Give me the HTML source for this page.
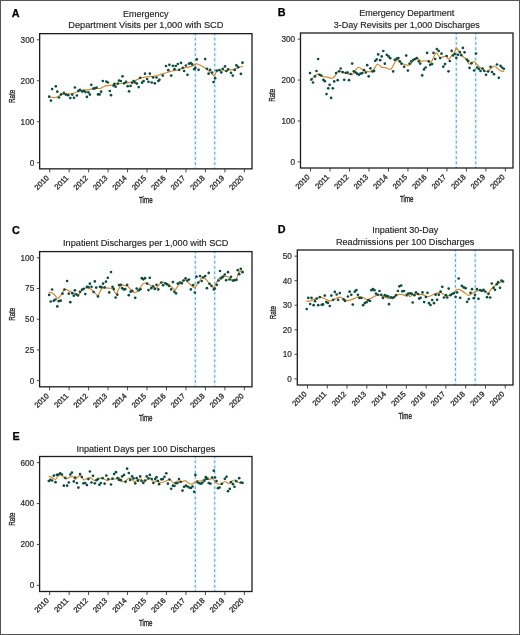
<!DOCTYPE html>
<html><head><meta charset="utf-8"><style>html,body{margin:0;padding:0;background:#fff;overflow:hidden}svg{display:block;will-change:transform}</style></head>
<body><svg width="520" height="635" viewBox="0 0 520 635"><rect x="0" y="0" width="520" height="635" fill="#fff"/><rect x="0.5" y="0.5" width="519" height="634" fill="none" stroke="#555" stroke-width="1"/><g font-family="'Liberation Sans', sans-serif"><text x="11.7" y="16.5" font-family="'Liberation Sans', sans-serif" font-weight="bold" font-size="10.8" fill="#000" stroke="#000" stroke-width="0.25">A</text><text x="145.825" y="16.8" text-anchor="middle" font-size="9" fill="#1e1e1e" stroke="#1e1e1e" stroke-width="0.15">Emergency</text><text x="145.825" y="28.1" text-anchor="middle" font-size="9.22" fill="#1e1e1e" stroke="#1e1e1e" stroke-width="0.15">Department Visits per 1,000 with SCD</text><line x1="195.30" y1="168.85" x2="195.30" y2="33.65" stroke="#eaf8fc" stroke-width="3"/><line x1="195.30" y1="168.85" x2="195.30" y2="33.65" stroke="#3f93c0" stroke-width="0.9" stroke-dasharray="2.6 2.59" stroke-dashoffset="1.3"/><line x1="214.77" y1="168.85" x2="214.77" y2="33.65" stroke="#eaf8fc" stroke-width="3"/><line x1="214.77" y1="168.85" x2="214.77" y2="33.65" stroke="#3f93c0" stroke-width="0.9" stroke-dasharray="2.6 2.59" stroke-dashoffset="1.3"/><path d="M48.6,96.7 C49.8,96.8 53.4,97.8 55.5,97.5 C57.6,97.2 59.4,95.2 61.3,94.6 C63.2,94.0 65.2,94.2 67.1,94.0 C69.0,93.8 70.9,94.0 72.8,93.5 C74.7,93.0 76.7,91.8 78.6,91.2 C80.5,90.7 82.5,90.5 84.4,90.2 C86.3,89.9 88.3,89.7 90.2,89.4 C92.1,89.1 94.3,88.5 95.9,88.3 C97.5,88.1 98.5,88.8 100.0,88.5 C101.5,88.2 102.7,86.8 104.6,86.2 C106.5,85.7 109.4,85.6 111.5,85.2 C113.6,84.8 115.4,84.1 117.3,83.8 C119.2,83.5 121.2,83.5 123.1,83.3 C125.0,83.1 126.9,83.1 128.8,82.7 C130.7,82.3 132.7,81.8 134.6,81.0 C136.5,80.2 138.5,78.8 140.4,78.1 C142.3,77.4 144.3,77.2 146.2,76.9 C148.1,76.6 150.4,76.4 151.9,76.3 C153.4,76.2 153.5,76.5 155.0,76.2 C156.5,75.9 158.9,75.0 160.8,74.4 C162.7,73.8 164.6,73.3 166.5,72.7 C168.4,72.1 170.4,71.5 172.3,71.0 C174.2,70.5 176.2,70.3 178.1,69.8 C180.0,69.3 181.9,68.6 183.8,68.1 C185.7,67.6 188.1,67.3 189.6,66.9 C191.1,66.5 192.1,66.3 193.1,65.8 C194.1,65.3 194.6,64.3 195.4,64.0 C196.2,63.7 196.7,63.7 197.7,64.0 C198.7,64.3 199.9,65.1 201.2,65.8 C202.5,66.5 203.8,67.2 205.4,68.3 C207.0,69.4 209.4,71.4 210.8,72.6 C212.2,73.8 212.9,75.6 214.0,75.3 C215.1,75.0 215.9,71.9 217.2,71.0 C218.4,70.1 220.1,69.9 221.5,69.9 C222.9,69.9 224.7,71.1 225.8,71.0 C226.9,70.9 226.9,69.6 228.0,69.4 C229.1,69.2 230.9,70.1 232.3,69.9 C233.7,69.7 234.9,68.9 236.6,68.3 C238.3,67.7 241.5,66.5 242.5,66.2" fill="none" stroke="#da862f" stroke-width="1.2" stroke-linejoin="round" stroke-linecap="round"/><circle cx="49.2" cy="96.7" r="1.33" fill="#0b4d40"/><circle cx="50.9" cy="100.6" r="1.33" fill="#0b4d40"/><circle cx="52.1" cy="89.1" r="1.33" fill="#0b4d40"/><circle cx="55.8" cy="86.3" r="1.33" fill="#0b4d40"/><circle cx="57.3" cy="91.7" r="1.33" fill="#0b4d40"/><circle cx="59.0" cy="97.5" r="1.33" fill="#0b4d40"/><circle cx="61.1" cy="94.4" r="1.33" fill="#0b4d40"/><circle cx="63.8" cy="92.9" r="1.33" fill="#0b4d40"/><circle cx="65.9" cy="94.6" r="1.33" fill="#0b4d40"/><circle cx="68.2" cy="95.2" r="1.33" fill="#0b4d40"/><circle cx="70.3" cy="98.1" r="1.33" fill="#0b4d40"/><circle cx="72.3" cy="94.6" r="1.33" fill="#0b4d40"/><circle cx="74.0" cy="97.8" r="1.33" fill="#0b4d40"/><circle cx="74.9" cy="87.5" r="1.33" fill="#0b4d40"/><circle cx="76.9" cy="95.5" r="1.33" fill="#0b4d40"/><circle cx="78.4" cy="90.9" r="1.33" fill="#0b4d40"/><circle cx="80.0" cy="89.8" r="1.33" fill="#0b4d40"/><circle cx="82.1" cy="91.4" r="1.33" fill="#0b4d40"/><circle cx="83.8" cy="90.9" r="1.33" fill="#0b4d40"/><circle cx="85.5" cy="92.1" r="1.33" fill="#0b4d40"/><circle cx="86.9" cy="96.9" r="1.33" fill="#0b4d40"/><circle cx="88.4" cy="92.3" r="1.33" fill="#0b4d40"/><circle cx="89.9" cy="94.6" r="1.33" fill="#0b4d40"/><circle cx="91.3" cy="84.8" r="1.33" fill="#0b4d40"/><circle cx="93.4" cy="88.6" r="1.33" fill="#0b4d40"/><circle cx="94.8" cy="88.3" r="1.33" fill="#0b4d40"/><circle cx="96.5" cy="87.7" r="1.33" fill="#0b4d40"/><circle cx="98.0" cy="94.4" r="1.33" fill="#0b4d40"/><circle cx="99.6" cy="94.4" r="1.33" fill="#0b4d40"/><circle cx="101.1" cy="91.7" r="1.33" fill="#0b4d40"/><circle cx="102.8" cy="81.0" r="1.33" fill="#0b4d40"/><circle cx="106.3" cy="81.5" r="1.33" fill="#0b4d40"/><circle cx="107.8" cy="82.5" r="1.33" fill="#0b4d40"/><circle cx="109.8" cy="91.0" r="1.33" fill="#0b4d40"/><circle cx="111.0" cy="95.2" r="1.33" fill="#0b4d40"/><circle cx="113.6" cy="85.6" r="1.33" fill="#0b4d40"/><circle cx="115.6" cy="86.7" r="1.33" fill="#0b4d40"/><circle cx="114.4" cy="83.8" r="1.33" fill="#0b4d40"/><circle cx="117.9" cy="83.6" r="1.33" fill="#0b4d40"/><circle cx="119.0" cy="80.6" r="1.33" fill="#0b4d40"/><circle cx="120.8" cy="81.0" r="1.33" fill="#0b4d40"/><circle cx="122.5" cy="76.3" r="1.33" fill="#0b4d40"/><circle cx="124.2" cy="83.3" r="1.33" fill="#0b4d40"/><circle cx="126.0" cy="81.8" r="1.33" fill="#0b4d40"/><circle cx="127.7" cy="86.2" r="1.33" fill="#0b4d40"/><circle cx="129.1" cy="91.3" r="1.33" fill="#0b4d40"/><circle cx="130.6" cy="85.9" r="1.33" fill="#0b4d40"/><circle cx="132.3" cy="82.7" r="1.33" fill="#0b4d40"/><circle cx="133.7" cy="81.0" r="1.33" fill="#0b4d40"/><circle cx="135.2" cy="82.5" r="1.33" fill="#0b4d40"/><circle cx="136.9" cy="83.6" r="1.33" fill="#0b4d40"/><circle cx="138.7" cy="87.1" r="1.33" fill="#0b4d40"/><circle cx="140.2" cy="77.8" r="1.33" fill="#0b4d40"/><circle cx="142.1" cy="82.7" r="1.33" fill="#0b4d40"/><circle cx="143.6" cy="81.0" r="1.33" fill="#0b4d40"/><circle cx="145.0" cy="73.7" r="1.33" fill="#0b4d40"/><circle cx="147.1" cy="79.0" r="1.33" fill="#0b4d40"/><circle cx="148.5" cy="81.8" r="1.33" fill="#0b4d40"/><circle cx="149.8" cy="73.7" r="1.33" fill="#0b4d40"/><circle cx="151.7" cy="82.5" r="1.33" fill="#0b4d40"/><circle cx="153.1" cy="77.5" r="1.33" fill="#0b4d40"/><circle cx="154.8" cy="83.3" r="1.33" fill="#0b4d40"/><circle cx="156.5" cy="77.5" r="1.33" fill="#0b4d40"/><circle cx="158.3" cy="81.0" r="1.33" fill="#0b4d40"/><circle cx="159.4" cy="79.8" r="1.33" fill="#0b4d40"/><circle cx="162.8" cy="75.6" r="1.33" fill="#0b4d40"/><circle cx="166.0" cy="66.0" r="1.33" fill="#0b4d40"/><circle cx="168.3" cy="70.2" r="1.33" fill="#0b4d40"/><circle cx="169.4" cy="64.8" r="1.33" fill="#0b4d40"/><circle cx="171.2" cy="75.6" r="1.33" fill="#0b4d40"/><circle cx="172.9" cy="65.8" r="1.33" fill="#0b4d40"/><circle cx="174.4" cy="69.2" r="1.33" fill="#0b4d40"/><circle cx="175.8" cy="66.0" r="1.33" fill="#0b4d40"/><circle cx="177.8" cy="64.0" r="1.33" fill="#0b4d40"/><circle cx="179.2" cy="69.8" r="1.33" fill="#0b4d40"/><circle cx="181.0" cy="62.9" r="1.33" fill="#0b4d40"/><circle cx="182.7" cy="67.8" r="1.33" fill="#0b4d40"/><circle cx="184.1" cy="71.0" r="1.33" fill="#0b4d40"/><circle cx="185.9" cy="65.5" r="1.33" fill="#0b4d40"/><circle cx="187.5" cy="74.8" r="1.33" fill="#0b4d40"/><circle cx="189.0" cy="63.7" r="1.33" fill="#0b4d40"/><circle cx="190.8" cy="63.2" r="1.33" fill="#0b4d40"/><circle cx="192.2" cy="64.4" r="1.33" fill="#0b4d40"/><circle cx="194.2" cy="69.2" r="1.33" fill="#0b4d40"/><circle cx="195.4" cy="67.8" r="1.33" fill="#0b4d40"/><circle cx="196.8" cy="59.4" r="1.33" fill="#0b4d40"/><circle cx="198.6" cy="69.8" r="1.33" fill="#0b4d40"/><circle cx="205.2" cy="59.1" r="1.33" fill="#0b4d40"/><circle cx="207.0" cy="68.8" r="1.33" fill="#0b4d40"/><circle cx="208.6" cy="73.7" r="1.33" fill="#0b4d40"/><circle cx="210.2" cy="69.9" r="1.33" fill="#0b4d40"/><circle cx="212.1" cy="72.6" r="1.33" fill="#0b4d40"/><circle cx="213.5" cy="82.1" r="1.33" fill="#0b4d40"/><circle cx="215.1" cy="78.2" r="1.33" fill="#0b4d40"/><circle cx="216.7" cy="70.7" r="1.33" fill="#0b4d40"/><circle cx="219.4" cy="70.2" r="1.33" fill="#0b4d40"/><circle cx="221.3" cy="72.4" r="1.33" fill="#0b4d40"/><circle cx="222.8" cy="68.8" r="1.33" fill="#0b4d40"/><circle cx="225.0" cy="66.4" r="1.33" fill="#0b4d40"/><circle cx="226.4" cy="71.0" r="1.33" fill="#0b4d40"/><circle cx="228.2" cy="69.4" r="1.33" fill="#0b4d40"/><circle cx="231.0" cy="72.8" r="1.33" fill="#0b4d40"/><circle cx="232.8" cy="75.6" r="1.33" fill="#0b4d40"/><circle cx="234.7" cy="69.9" r="1.33" fill="#0b4d40"/><circle cx="236.4" cy="65.3" r="1.33" fill="#0b4d40"/><circle cx="238.2" cy="67.2" r="1.33" fill="#0b4d40"/><circle cx="240.9" cy="73.9" r="1.33" fill="#0b4d40"/><circle cx="242.5" cy="62.7" r="1.33" fill="#0b4d40"/><rect x="39.65" y="33.65" width="212.35" height="135.2" fill="none" stroke="#1c1c1c" stroke-width="1.3"/><line x1="36.85" y1="162.70" x2="39.65" y2="162.70" stroke="#333" stroke-width="0.9"/><text x="34.25" y="165.60" text-anchor="end" font-size="8.2" fill="#2a2a2a" stroke="#2a2a2a" stroke-width="0.2">0</text><line x1="36.85" y1="121.73" x2="39.65" y2="121.73" stroke="#333" stroke-width="0.9"/><text x="34.25" y="124.63" text-anchor="end" font-size="8.2" fill="#2a2a2a" stroke="#2a2a2a" stroke-width="0.2">100</text><line x1="36.85" y1="80.77" x2="39.65" y2="80.77" stroke="#333" stroke-width="0.9"/><text x="34.25" y="83.67" text-anchor="end" font-size="8.2" fill="#2a2a2a" stroke="#2a2a2a" stroke-width="0.2">200</text><line x1="36.85" y1="39.80" x2="39.65" y2="39.80" stroke="#333" stroke-width="0.9"/><text x="34.25" y="42.70" text-anchor="end" font-size="8.2" fill="#2a2a2a" stroke="#2a2a2a" stroke-width="0.2">300</text><line x1="49.70" y1="168.85" x2="49.70" y2="172.35" stroke="#333" stroke-width="0.9"/><text transform="translate(49.50,178.45) rotate(-45)" text-anchor="end" font-size="7.6" fill="#2a2a2a" stroke="#2a2a2a" stroke-width="0.3">2010</text><line x1="69.17" y1="168.85" x2="69.17" y2="172.35" stroke="#333" stroke-width="0.9"/><text transform="translate(68.97,178.45) rotate(-45)" text-anchor="end" font-size="7.6" fill="#2a2a2a" stroke="#2a2a2a" stroke-width="0.3">2011</text><line x1="88.64" y1="168.85" x2="88.64" y2="172.35" stroke="#333" stroke-width="0.9"/><text transform="translate(88.44,178.45) rotate(-45)" text-anchor="end" font-size="7.6" fill="#2a2a2a" stroke="#2a2a2a" stroke-width="0.3">2012</text><line x1="108.10" y1="168.85" x2="108.10" y2="172.35" stroke="#333" stroke-width="0.9"/><text transform="translate(107.90,178.45) rotate(-45)" text-anchor="end" font-size="7.6" fill="#2a2a2a" stroke="#2a2a2a" stroke-width="0.3">2013</text><line x1="127.57" y1="168.85" x2="127.57" y2="172.35" stroke="#333" stroke-width="0.9"/><text transform="translate(127.37,178.45) rotate(-45)" text-anchor="end" font-size="7.6" fill="#2a2a2a" stroke="#2a2a2a" stroke-width="0.3">2014</text><line x1="147.04" y1="168.85" x2="147.04" y2="172.35" stroke="#333" stroke-width="0.9"/><text transform="translate(146.84,178.45) rotate(-45)" text-anchor="end" font-size="7.6" fill="#2a2a2a" stroke="#2a2a2a" stroke-width="0.3">2015</text><line x1="166.50" y1="168.85" x2="166.50" y2="172.35" stroke="#333" stroke-width="0.9"/><text transform="translate(166.30,178.45) rotate(-45)" text-anchor="end" font-size="7.6" fill="#2a2a2a" stroke="#2a2a2a" stroke-width="0.3">2016</text><line x1="185.97" y1="168.85" x2="185.97" y2="172.35" stroke="#333" stroke-width="0.9"/><text transform="translate(185.77,178.45) rotate(-45)" text-anchor="end" font-size="7.6" fill="#2a2a2a" stroke="#2a2a2a" stroke-width="0.3">2017</text><line x1="205.44" y1="168.85" x2="205.44" y2="172.35" stroke="#333" stroke-width="0.9"/><text transform="translate(205.24,178.45) rotate(-45)" text-anchor="end" font-size="7.6" fill="#2a2a2a" stroke="#2a2a2a" stroke-width="0.3">2018</text><line x1="224.90" y1="168.85" x2="224.90" y2="172.35" stroke="#333" stroke-width="0.9"/><text transform="translate(224.70,178.45) rotate(-45)" text-anchor="end" font-size="7.6" fill="#2a2a2a" stroke="#2a2a2a" stroke-width="0.3">2019</text><line x1="244.37" y1="168.85" x2="244.37" y2="172.35" stroke="#333" stroke-width="0.9"/><text transform="translate(244.17,178.45) rotate(-45)" text-anchor="end" font-size="7.6" fill="#2a2a2a" stroke="#2a2a2a" stroke-width="0.3">2020</text><text transform="translate(145.82,203.1) scale(0.645,1)" text-anchor="middle" font-size="9.6" fill="#2a2a2a" stroke="#2a2a2a" stroke-width="0.4">Time</text><text transform="translate(14.799999999999999,96.4) rotate(-90) scale(0.635,1)" text-anchor="middle" font-size="9.8" fill="#2a2a2a" stroke="#2a2a2a" stroke-width="0.35">Rate</text></g><g font-family="'Liberation Sans', sans-serif"><text x="277.7" y="16" font-family="'Liberation Sans', sans-serif" font-weight="bold" font-size="10.8" fill="#000" stroke="#000" stroke-width="0.25">B</text><text x="406.75" y="16.3" text-anchor="middle" font-size="9" fill="#1e1e1e" stroke="#1e1e1e" stroke-width="0.15">Emergency Department</text><text x="406.75" y="27.5" text-anchor="middle" font-size="9" fill="#1e1e1e" stroke="#1e1e1e" stroke-width="0.15">3-Day Revisits per 1,000 Discharges</text><line x1="456.26" y1="168" x2="456.26" y2="33" stroke="#eaf8fc" stroke-width="3"/><line x1="456.26" y1="168" x2="456.26" y2="33" stroke="#3f93c0" stroke-width="0.9" stroke-dasharray="2.6 2.59" stroke-dashoffset="1.3"/><line x1="475.74" y1="168" x2="475.74" y2="33" stroke="#eaf8fc" stroke-width="3"/><line x1="475.74" y1="168" x2="475.74" y2="33" stroke="#3f93c0" stroke-width="0.9" stroke-dasharray="2.6 2.59" stroke-dashoffset="1.3"/><path d="M310.3,80.6 C310.8,80.1 312.2,78.7 313.2,77.7 C314.2,76.7 315.1,75.4 316.1,74.8 C317.1,74.2 317.9,73.9 319.0,74.2 C320.1,74.5 321.1,76.0 322.5,76.5 C323.9,77.0 325.6,76.8 327.1,77.1 C328.6,77.4 330.4,78.4 331.7,78.3 C332.9,78.2 333.7,77.5 334.6,76.5 C335.5,75.5 336.2,73.5 336.9,72.5 C337.6,71.5 337.7,70.9 338.6,70.8 C339.5,70.7 341.0,71.5 342.1,71.9 C343.2,72.3 344.1,72.7 345.5,73.1 C346.9,73.5 349.0,74.0 350.2,74.2 C351.4,74.4 351.7,75.0 352.5,74.5 C353.3,74.0 353.9,72.5 354.8,71.3 C355.8,70.1 357.1,67.7 358.2,67.3 C359.3,66.9 360.8,68.5 361.7,69.0 C362.6,69.5 362.6,69.8 363.5,70.2 C364.4,70.6 365.8,71.2 366.9,71.4 C368.0,71.7 369.2,72.0 370.4,71.7 C371.5,71.4 372.6,70.7 373.8,69.4 C375.0,68.2 376.1,64.6 377.3,64.2 C378.6,63.8 380.0,66.5 381.3,67.1 C382.6,67.7 383.8,67.3 385.4,67.7 C386.9,68.1 389.4,69.7 390.6,69.4 C391.9,69.1 392.0,67.4 392.9,66.0 C393.8,64.6 394.9,61.8 395.8,60.8 C396.7,59.8 397.3,59.9 398.1,60.2 C398.9,60.5 399.4,61.8 400.4,62.5 C401.3,63.2 402.4,63.7 403.8,64.2 C405.2,64.7 407.3,65.4 408.5,65.4 C409.7,65.4 409.9,65.2 410.8,64.2 C411.8,63.2 413.1,60.7 414.2,59.6 C415.2,58.5 416.0,57.7 417.1,57.9 C418.2,58.1 419.6,60.5 420.8,61.0 C422.0,61.5 423.1,61.0 424.2,61.0 C425.3,61.0 426.6,60.7 427.7,61.0 C428.8,61.3 429.6,63.3 430.6,62.7 C431.6,62.1 432.6,59.1 433.5,57.5 C434.4,55.9 435.2,52.9 436.3,52.9 C437.4,52.9 438.7,56.8 439.8,57.5 C440.9,58.2 441.6,57.1 442.7,56.9 C443.8,56.7 445.1,55.9 446.2,56.3 C447.2,56.7 448.1,59.4 449.0,59.2 C449.9,59.0 450.9,56.5 451.9,55.2 C452.9,54.0 454.1,52.9 454.8,51.7 C455.5,50.5 455.6,48.0 456.3,47.9 C457.0,47.8 457.8,49.9 458.8,51.2 C459.8,52.5 461.1,54.5 462.3,55.8 C463.5,57.1 464.7,57.8 465.8,59.2 C466.9,60.6 468.2,63.5 469.2,64.0 C470.1,64.5 470.7,62.9 471.5,62.5 C472.3,62.1 473.2,61.3 474.0,61.5 C474.8,61.7 475.2,62.7 476.0,63.5 C476.8,64.3 478.0,65.6 479.0,66.5 C480.0,67.4 480.8,68.2 482.0,69.0 C483.2,69.8 484.8,71.3 486.0,71.5 C487.2,71.7 488.0,70.7 489.0,70.0 C490.0,69.3 491.1,68.2 492.0,67.5 C492.9,66.8 493.7,65.9 494.5,66.0 C495.3,66.1 496.1,67.2 497.0,68.0 C497.9,68.8 498.9,69.9 500.0,70.5 C501.1,71.1 503.2,71.3 503.8,71.5" fill="none" stroke="#da862f" stroke-width="1.2" stroke-linejoin="round" stroke-linecap="round"/><circle cx="310.0" cy="73.1" r="1.33" fill="#0b4d40"/><circle cx="311.5" cy="79.4" r="1.33" fill="#0b4d40"/><circle cx="313.0" cy="82.5" r="1.33" fill="#0b4d40"/><circle cx="315.0" cy="76.3" r="1.33" fill="#0b4d40"/><circle cx="316.5" cy="71.0" r="1.33" fill="#0b4d40"/><circle cx="318.1" cy="59.0" r="1.33" fill="#0b4d40"/><circle cx="319.6" cy="74.8" r="1.33" fill="#0b4d40"/><circle cx="321.3" cy="75.6" r="1.33" fill="#0b4d40"/><circle cx="323.4" cy="79.8" r="1.33" fill="#0b4d40"/><circle cx="324.8" cy="81.2" r="1.33" fill="#0b4d40"/><circle cx="326.5" cy="94.1" r="1.33" fill="#0b4d40"/><circle cx="328.2" cy="88.3" r="1.33" fill="#0b4d40"/><circle cx="329.6" cy="84.8" r="1.33" fill="#0b4d40"/><circle cx="331.1" cy="97.9" r="1.33" fill="#0b4d40"/><circle cx="332.8" cy="88.3" r="1.33" fill="#0b4d40"/><circle cx="334.2" cy="81.4" r="1.33" fill="#0b4d40"/><circle cx="336.1" cy="73.1" r="1.33" fill="#0b4d40"/><circle cx="337.7" cy="80.2" r="1.33" fill="#0b4d40"/><circle cx="339.2" cy="71.3" r="1.33" fill="#0b4d40"/><circle cx="340.7" cy="68.5" r="1.33" fill="#0b4d40"/><circle cx="342.7" cy="72.2" r="1.33" fill="#0b4d40"/><circle cx="344.2" cy="79.8" r="1.33" fill="#0b4d40"/><circle cx="345.8" cy="72.8" r="1.33" fill="#0b4d40"/><circle cx="347.6" cy="72.5" r="1.33" fill="#0b4d40"/><circle cx="349.0" cy="80.2" r="1.33" fill="#0b4d40"/><circle cx="350.7" cy="74.0" r="1.33" fill="#0b4d40"/><circle cx="352.2" cy="63.6" r="1.33" fill="#0b4d40"/><circle cx="353.8" cy="71.3" r="1.33" fill="#0b4d40"/><circle cx="355.7" cy="72.5" r="1.33" fill="#0b4d40"/><circle cx="357.1" cy="73.7" r="1.33" fill="#0b4d40"/><circle cx="358.8" cy="74.8" r="1.33" fill="#0b4d40"/><circle cx="360.5" cy="73.7" r="1.33" fill="#0b4d40"/><circle cx="362.3" cy="73.1" r="1.33" fill="#0b4d40"/><circle cx="364.0" cy="70.2" r="1.33" fill="#0b4d40"/><circle cx="365.8" cy="72.5" r="1.33" fill="#0b4d40"/><circle cx="367.2" cy="65.2" r="1.33" fill="#0b4d40"/><circle cx="368.7" cy="76.3" r="1.33" fill="#0b4d40"/><circle cx="370.4" cy="68.3" r="1.33" fill="#0b4d40"/><circle cx="372.5" cy="71.4" r="1.33" fill="#0b4d40"/><circle cx="374.1" cy="70.9" r="1.33" fill="#0b4d40"/><circle cx="375.2" cy="60.8" r="1.33" fill="#0b4d40"/><circle cx="376.7" cy="59.4" r="1.33" fill="#0b4d40"/><circle cx="378.2" cy="54.4" r="1.33" fill="#0b4d40"/><circle cx="380.2" cy="60.2" r="1.33" fill="#0b4d40"/><circle cx="381.7" cy="56.4" r="1.33" fill="#0b4d40"/><circle cx="383.3" cy="51.0" r="1.33" fill="#0b4d40"/><circle cx="384.8" cy="63.7" r="1.33" fill="#0b4d40"/><circle cx="386.8" cy="54.8" r="1.33" fill="#0b4d40"/><circle cx="388.6" cy="56.4" r="1.33" fill="#0b4d40"/><circle cx="390.2" cy="58.2" r="1.33" fill="#0b4d40"/><circle cx="393.2" cy="71.4" r="1.33" fill="#0b4d40"/><circle cx="394.8" cy="59.8" r="1.33" fill="#0b4d40"/><circle cx="396.7" cy="58.7" r="1.33" fill="#0b4d40"/><circle cx="398.3" cy="58.2" r="1.33" fill="#0b4d40"/><circle cx="399.8" cy="61.3" r="1.33" fill="#0b4d40"/><circle cx="401.5" cy="63.7" r="1.33" fill="#0b4d40"/><circle cx="404.1" cy="66.8" r="1.33" fill="#0b4d40"/><circle cx="406.2" cy="55.6" r="1.33" fill="#0b4d40"/><circle cx="407.9" cy="70.6" r="1.33" fill="#0b4d40"/><circle cx="409.6" cy="63.7" r="1.33" fill="#0b4d40"/><circle cx="411.3" cy="61.3" r="1.33" fill="#0b4d40"/><circle cx="413.3" cy="59.8" r="1.33" fill="#0b4d40"/><circle cx="415.2" cy="59.0" r="1.33" fill="#0b4d40"/><circle cx="416.8" cy="58.2" r="1.33" fill="#0b4d40"/><circle cx="418.8" cy="61.3" r="1.33" fill="#0b4d40"/><circle cx="420.2" cy="63.6" r="1.33" fill="#0b4d40"/><circle cx="422.2" cy="75.4" r="1.33" fill="#0b4d40"/><circle cx="424.0" cy="69.4" r="1.33" fill="#0b4d40"/><circle cx="425.6" cy="67.5" r="1.33" fill="#0b4d40"/><circle cx="427.1" cy="52.9" r="1.33" fill="#0b4d40"/><circle cx="428.8" cy="61.3" r="1.33" fill="#0b4d40"/><circle cx="430.2" cy="64.8" r="1.33" fill="#0b4d40"/><circle cx="432.1" cy="64.1" r="1.33" fill="#0b4d40"/><circle cx="433.5" cy="52.9" r="1.33" fill="#0b4d40"/><circle cx="435.2" cy="59.0" r="1.33" fill="#0b4d40"/><circle cx="436.9" cy="49.1" r="1.33" fill="#0b4d40"/><circle cx="438.7" cy="50.9" r="1.33" fill="#0b4d40"/><circle cx="440.2" cy="58.1" r="1.33" fill="#0b4d40"/><circle cx="441.5" cy="53.7" r="1.33" fill="#0b4d40"/><circle cx="443.3" cy="66.7" r="1.33" fill="#0b4d40"/><circle cx="445.0" cy="64.1" r="1.33" fill="#0b4d40"/><circle cx="446.7" cy="56.0" r="1.33" fill="#0b4d40"/><circle cx="448.5" cy="71.3" r="1.33" fill="#0b4d40"/><circle cx="449.8" cy="61.0" r="1.33" fill="#0b4d40"/><circle cx="451.7" cy="50.9" r="1.33" fill="#0b4d40"/><circle cx="453.1" cy="55.5" r="1.33" fill="#0b4d40"/><circle cx="454.8" cy="54.0" r="1.33" fill="#0b4d40"/><circle cx="456.3" cy="57.8" r="1.33" fill="#0b4d40"/><circle cx="457.9" cy="54.8" r="1.33" fill="#0b4d40"/><circle cx="459.8" cy="52.1" r="1.33" fill="#0b4d40"/><circle cx="461.2" cy="55.2" r="1.33" fill="#0b4d40"/><circle cx="462.9" cy="47.9" r="1.33" fill="#0b4d40"/><circle cx="464.6" cy="52.3" r="1.33" fill="#0b4d40"/><circle cx="466.9" cy="59.5" r="1.33" fill="#0b4d40"/><circle cx="468.3" cy="61.0" r="1.33" fill="#0b4d40"/><circle cx="469.5" cy="67.9" r="1.33" fill="#0b4d40"/><circle cx="471.5" cy="63.3" r="1.33" fill="#0b4d40"/><circle cx="474.1" cy="70.5" r="1.33" fill="#0b4d40"/><circle cx="476.0" cy="53.5" r="1.33" fill="#0b4d40"/><circle cx="477.2" cy="67.5" r="1.33" fill="#0b4d40"/><circle cx="478.8" cy="69.0" r="1.33" fill="#0b4d40"/><circle cx="480.5" cy="71.0" r="1.33" fill="#0b4d40"/><circle cx="482.5" cy="68.5" r="1.33" fill="#0b4d40"/><circle cx="484.2" cy="70.8" r="1.33" fill="#0b4d40"/><circle cx="486.0" cy="74.8" r="1.33" fill="#0b4d40"/><circle cx="488.2" cy="71.5" r="1.33" fill="#0b4d40"/><circle cx="490.5" cy="66.8" r="1.33" fill="#0b4d40"/><circle cx="492.0" cy="72.0" r="1.33" fill="#0b4d40"/><circle cx="494.0" cy="74.2" r="1.33" fill="#0b4d40"/><circle cx="497.0" cy="64.5" r="1.33" fill="#0b4d40"/><circle cx="498.8" cy="77.8" r="1.33" fill="#0b4d40"/><circle cx="500.5" cy="65.8" r="1.33" fill="#0b4d40"/><circle cx="502.0" cy="67.5" r="1.33" fill="#0b4d40"/><circle cx="503.8" cy="68.8" r="1.33" fill="#0b4d40"/><rect x="300.5" y="33" width="212.5" height="135" fill="none" stroke="#1c1c1c" stroke-width="1.3"/><line x1="297.7" y1="161.86" x2="300.5" y2="161.86" stroke="#333" stroke-width="0.9"/><text x="295.10" y="164.76" text-anchor="end" font-size="8.2" fill="#2a2a2a" stroke="#2a2a2a" stroke-width="0.2">0</text><line x1="297.7" y1="120.95" x2="300.5" y2="120.95" stroke="#333" stroke-width="0.9"/><text x="295.10" y="123.85" text-anchor="end" font-size="8.2" fill="#2a2a2a" stroke="#2a2a2a" stroke-width="0.2">100</text><line x1="297.7" y1="80.05" x2="300.5" y2="80.05" stroke="#333" stroke-width="0.9"/><text x="295.10" y="82.95" text-anchor="end" font-size="8.2" fill="#2a2a2a" stroke="#2a2a2a" stroke-width="0.2">200</text><line x1="297.7" y1="39.14" x2="300.5" y2="39.14" stroke="#333" stroke-width="0.9"/><text x="295.10" y="42.04" text-anchor="end" font-size="8.2" fill="#2a2a2a" stroke="#2a2a2a" stroke-width="0.2">300</text><line x1="310.56" y1="168" x2="310.56" y2="171.5" stroke="#333" stroke-width="0.9"/><text transform="translate(310.36,177.60) rotate(-45)" text-anchor="end" font-size="7.6" fill="#2a2a2a" stroke="#2a2a2a" stroke-width="0.3">2010</text><line x1="330.04" y1="168" x2="330.04" y2="171.5" stroke="#333" stroke-width="0.9"/><text transform="translate(329.84,177.60) rotate(-45)" text-anchor="end" font-size="7.6" fill="#2a2a2a" stroke="#2a2a2a" stroke-width="0.3">2011</text><line x1="349.52" y1="168" x2="349.52" y2="171.5" stroke="#333" stroke-width="0.9"/><text transform="translate(349.32,177.60) rotate(-45)" text-anchor="end" font-size="7.6" fill="#2a2a2a" stroke="#2a2a2a" stroke-width="0.3">2012</text><line x1="369.00" y1="168" x2="369.00" y2="171.5" stroke="#333" stroke-width="0.9"/><text transform="translate(368.80,177.60) rotate(-45)" text-anchor="end" font-size="7.6" fill="#2a2a2a" stroke="#2a2a2a" stroke-width="0.3">2013</text><line x1="388.48" y1="168" x2="388.48" y2="171.5" stroke="#333" stroke-width="0.9"/><text transform="translate(388.28,177.60) rotate(-45)" text-anchor="end" font-size="7.6" fill="#2a2a2a" stroke="#2a2a2a" stroke-width="0.3">2014</text><line x1="407.96" y1="168" x2="407.96" y2="171.5" stroke="#333" stroke-width="0.9"/><text transform="translate(407.76,177.60) rotate(-45)" text-anchor="end" font-size="7.6" fill="#2a2a2a" stroke="#2a2a2a" stroke-width="0.3">2015</text><line x1="427.44" y1="168" x2="427.44" y2="171.5" stroke="#333" stroke-width="0.9"/><text transform="translate(427.24,177.60) rotate(-45)" text-anchor="end" font-size="7.6" fill="#2a2a2a" stroke="#2a2a2a" stroke-width="0.3">2016</text><line x1="446.92" y1="168" x2="446.92" y2="171.5" stroke="#333" stroke-width="0.9"/><text transform="translate(446.72,177.60) rotate(-45)" text-anchor="end" font-size="7.6" fill="#2a2a2a" stroke="#2a2a2a" stroke-width="0.3">2017</text><line x1="466.40" y1="168" x2="466.40" y2="171.5" stroke="#333" stroke-width="0.9"/><text transform="translate(466.20,177.60) rotate(-45)" text-anchor="end" font-size="7.6" fill="#2a2a2a" stroke="#2a2a2a" stroke-width="0.3">2018</text><line x1="485.88" y1="168" x2="485.88" y2="171.5" stroke="#333" stroke-width="0.9"/><text transform="translate(485.68,177.60) rotate(-45)" text-anchor="end" font-size="7.6" fill="#2a2a2a" stroke="#2a2a2a" stroke-width="0.3">2019</text><line x1="505.36" y1="168" x2="505.36" y2="171.5" stroke="#333" stroke-width="0.9"/><text transform="translate(505.16,177.60) rotate(-45)" text-anchor="end" font-size="7.6" fill="#2a2a2a" stroke="#2a2a2a" stroke-width="0.3">2020</text><text transform="translate(406.75,202.1) scale(0.645,1)" text-anchor="middle" font-size="9.6" fill="#2a2a2a" stroke="#2a2a2a" stroke-width="0.4">Time</text><text transform="translate(275.4,95.3) rotate(-90) scale(0.635,1)" text-anchor="middle" font-size="9.8" fill="#2a2a2a" stroke="#2a2a2a" stroke-width="0.35">Rate</text></g><g font-family="'Liberation Sans', sans-serif"><text x="11.899999999999999" y="233.6" font-family="'Liberation Sans', sans-serif" font-weight="bold" font-size="10.8" fill="#000" stroke="#000" stroke-width="0.25">C</text><text x="145.8" y="246.2" text-anchor="middle" font-size="9.17" fill="#1e1e1e" stroke="#1e1e1e" stroke-width="0.15">Inpatient Discharges per 1,000 with SCD</text><line x1="195.29" y1="386.8" x2="195.29" y2="251.6" stroke="#eaf8fc" stroke-width="3"/><line x1="195.29" y1="386.8" x2="195.29" y2="251.6" stroke="#3f93c0" stroke-width="0.9" stroke-dasharray="2.6 2.59" stroke-dashoffset="1.3"/><line x1="214.76" y1="386.8" x2="214.76" y2="251.6" stroke="#eaf8fc" stroke-width="3"/><line x1="214.76" y1="386.8" x2="214.76" y2="251.6" stroke="#3f93c0" stroke-width="0.9" stroke-dasharray="2.6 2.59" stroke-dashoffset="1.3"/><path d="M49.2,292.2 C49.7,292.3 51.1,292.3 52.1,292.9 C53.1,293.4 54.0,294.6 55.0,295.5 C56.0,296.4 56.8,298.3 57.8,298.3 C58.8,298.3 59.6,296.9 60.7,295.5 C61.8,294.1 63.2,290.7 64.2,289.7 C65.2,288.7 65.7,289.5 66.5,289.7 C67.3,289.9 67.9,290.4 68.8,290.8 C69.7,291.2 70.7,291.8 71.7,292.2 C72.7,292.6 73.6,292.8 74.6,293.4 C75.6,293.9 76.6,295.5 77.5,295.5 C78.4,295.5 78.9,294.2 79.8,293.2 C80.7,292.2 81.8,290.6 82.7,289.7 C83.7,288.8 84.5,288.3 85.5,288.0 C86.5,287.7 87.4,287.8 88.4,288.0 C89.4,288.2 90.2,288.7 91.3,289.5 C92.4,290.3 93.7,291.5 94.8,292.6 C95.9,293.7 96.9,295.9 97.7,296.0 C98.5,296.1 98.7,294.4 99.4,293.2 C100.1,291.9 100.8,289.4 101.7,288.5 C102.6,287.6 103.3,287.9 104.6,287.8 C105.8,287.8 107.8,288.0 109.2,288.2 C110.6,288.4 111.5,288.0 112.7,288.9 C113.9,289.8 115.2,293.8 116.2,293.8 C117.2,293.9 117.7,290.6 118.5,289.2 C119.3,287.8 120.3,285.7 121.3,285.1 C122.2,284.5 123.1,285.3 124.2,285.5 C125.3,285.7 126.5,285.5 127.7,286.3 C128.9,287.1 130.0,289.2 131.2,290.3 C132.3,291.4 133.5,292.5 134.6,292.6 C135.7,292.7 136.5,291.8 137.5,290.9 C138.5,290.0 139.4,288.6 140.4,287.4 C141.4,286.1 142.3,284.1 143.3,283.4 C144.3,282.7 145.1,283.0 146.2,283.2 C147.2,283.4 148.4,284.1 149.6,284.8 C150.8,285.5 151.9,286.5 153.1,287.1 C154.2,287.7 155.7,288.4 156.5,288.2 C157.3,288.0 157.1,287.1 157.9,286.2 C158.7,285.2 160.2,283.1 161.3,282.5 C162.4,281.9 163.1,282.3 164.2,282.5 C165.3,282.7 166.5,283.1 167.7,283.8 C168.9,284.5 169.9,285.7 171.2,286.7 C172.4,287.7 174.0,289.8 175.2,289.6 C176.3,289.4 177.0,286.9 178.1,285.6 C179.2,284.4 180.6,283.1 181.5,282.1 C182.4,281.1 182.9,280.0 183.8,279.8 C184.7,279.6 185.7,280.3 186.7,281.0 C187.7,281.7 188.6,282.9 189.6,283.8 C190.6,284.7 191.6,285.5 192.5,286.2 C193.4,286.9 194.0,288.2 194.8,287.9 C195.6,287.6 196.2,285.6 197.1,284.4 C198.0,283.1 199.1,281.6 200.0,280.4 C200.9,279.1 201.3,277.1 202.3,276.9 C203.3,276.7 205.0,278.6 205.8,279.2 C206.6,279.8 206.3,279.7 207.0,280.5 C207.7,281.3 208.9,282.8 210.0,284.0 C211.1,285.2 212.4,287.8 213.5,287.5 C214.6,287.2 215.6,284.0 216.5,282.5 C217.4,281.0 218.2,279.5 219.0,278.5 C219.8,277.5 220.7,276.9 221.5,276.5 C222.3,276.1 223.1,276.0 224.0,276.0 C224.9,276.0 226.0,276.2 227.0,276.5 C228.0,276.8 229.0,277.2 230.0,278.0 C231.0,278.8 232.0,280.7 233.0,281.0 C234.0,281.3 235.1,281.3 236.0,280.0 C236.9,278.7 237.7,274.5 238.5,273.0 C239.3,271.5 240.2,271.3 241.0,271.0 C241.8,270.7 242.7,271.2 243.0,271.2" fill="none" stroke="#da862f" stroke-width="1.2" stroke-linejoin="round" stroke-linecap="round"/><circle cx="49.2" cy="294.9" r="1.33" fill="#0b4d40"/><circle cx="50.7" cy="301.5" r="1.33" fill="#0b4d40"/><circle cx="52.1" cy="289.5" r="1.33" fill="#0b4d40"/><circle cx="53.8" cy="300.7" r="1.33" fill="#0b4d40"/><circle cx="55.5" cy="299.5" r="1.33" fill="#0b4d40"/><circle cx="57.3" cy="306.4" r="1.33" fill="#0b4d40"/><circle cx="58.8" cy="301.2" r="1.33" fill="#0b4d40"/><circle cx="60.7" cy="300.7" r="1.33" fill="#0b4d40"/><circle cx="62.5" cy="293.7" r="1.33" fill="#0b4d40"/><circle cx="64.5" cy="289.5" r="1.33" fill="#0b4d40"/><circle cx="67.1" cy="281.0" r="1.33" fill="#0b4d40"/><circle cx="68.8" cy="293.7" r="1.33" fill="#0b4d40"/><circle cx="70.3" cy="302.2" r="1.33" fill="#0b4d40"/><circle cx="72.3" cy="293.2" r="1.33" fill="#0b4d40"/><circle cx="73.8" cy="295.7" r="1.33" fill="#0b4d40"/><circle cx="74.9" cy="290.3" r="1.33" fill="#0b4d40"/><circle cx="76.3" cy="294.3" r="1.33" fill="#0b4d40"/><circle cx="78.0" cy="295.5" r="1.33" fill="#0b4d40"/><circle cx="80.0" cy="291.8" r="1.33" fill="#0b4d40"/><circle cx="82.1" cy="289.7" r="1.33" fill="#0b4d40"/><circle cx="83.8" cy="288.8" r="1.33" fill="#0b4d40"/><circle cx="85.3" cy="294.1" r="1.33" fill="#0b4d40"/><circle cx="86.9" cy="286.8" r="1.33" fill="#0b4d40"/><circle cx="88.4" cy="287.2" r="1.33" fill="#0b4d40"/><circle cx="89.9" cy="283.7" r="1.33" fill="#0b4d40"/><circle cx="91.5" cy="286.8" r="1.33" fill="#0b4d40"/><circle cx="93.6" cy="292.0" r="1.33" fill="#0b4d40"/><circle cx="94.8" cy="281.4" r="1.33" fill="#0b4d40"/><circle cx="96.2" cy="287.6" r="1.33" fill="#0b4d40"/><circle cx="98.0" cy="296.4" r="1.33" fill="#0b4d40"/><circle cx="100.0" cy="286.8" r="1.33" fill="#0b4d40"/><circle cx="101.5" cy="287.2" r="1.33" fill="#0b4d40"/><circle cx="103.1" cy="283.7" r="1.33" fill="#0b4d40"/><circle cx="104.6" cy="287.4" r="1.33" fill="#0b4d40"/><circle cx="106.0" cy="281.7" r="1.33" fill="#0b4d40"/><circle cx="107.8" cy="277.8" r="1.33" fill="#0b4d40"/><circle cx="109.2" cy="292.4" r="1.33" fill="#0b4d40"/><circle cx="111.0" cy="272.1" r="1.33" fill="#0b4d40"/><circle cx="112.5" cy="286.8" r="1.33" fill="#0b4d40"/><circle cx="113.8" cy="288.9" r="1.33" fill="#0b4d40"/><circle cx="115.6" cy="297.5" r="1.33" fill="#0b4d40"/><circle cx="117.3" cy="294.7" r="1.33" fill="#0b4d40"/><circle cx="119.0" cy="285.1" r="1.33" fill="#0b4d40"/><circle cx="120.8" cy="284.8" r="1.33" fill="#0b4d40"/><circle cx="122.2" cy="288.2" r="1.33" fill="#0b4d40"/><circle cx="123.7" cy="289.4" r="1.33" fill="#0b4d40"/><circle cx="125.2" cy="289.2" r="1.33" fill="#0b4d40"/><circle cx="127.1" cy="284.8" r="1.33" fill="#0b4d40"/><circle cx="128.8" cy="295.2" r="1.33" fill="#0b4d40"/><circle cx="130.6" cy="291.7" r="1.33" fill="#0b4d40"/><circle cx="132.3" cy="290.9" r="1.33" fill="#0b4d40"/><circle cx="135.2" cy="297.8" r="1.33" fill="#0b4d40"/><circle cx="136.7" cy="288.6" r="1.33" fill="#0b4d40"/><circle cx="138.7" cy="290.5" r="1.33" fill="#0b4d40"/><circle cx="140.4" cy="289.2" r="1.33" fill="#0b4d40"/><circle cx="141.8" cy="278.2" r="1.33" fill="#0b4d40"/><circle cx="143.3" cy="279.3" r="1.33" fill="#0b4d40"/><circle cx="145.0" cy="278.2" r="1.33" fill="#0b4d40"/><circle cx="147.1" cy="283.6" r="1.33" fill="#0b4d40"/><circle cx="148.5" cy="290.1" r="1.33" fill="#0b4d40"/><circle cx="149.8" cy="277.8" r="1.33" fill="#0b4d40"/><circle cx="151.3" cy="288.2" r="1.33" fill="#0b4d40"/><circle cx="153.1" cy="286.3" r="1.33" fill="#0b4d40"/><circle cx="154.8" cy="288.9" r="1.33" fill="#0b4d40"/><circle cx="156.5" cy="284.8" r="1.33" fill="#0b4d40"/><circle cx="158.3" cy="289.4" r="1.33" fill="#0b4d40"/><circle cx="161.3" cy="282.5" r="1.33" fill="#0b4d40"/><circle cx="163.1" cy="285.2" r="1.33" fill="#0b4d40"/><circle cx="165.4" cy="283.3" r="1.33" fill="#0b4d40"/><circle cx="167.1" cy="284.4" r="1.33" fill="#0b4d40"/><circle cx="169.1" cy="285.9" r="1.33" fill="#0b4d40"/><circle cx="171.2" cy="289.4" r="1.33" fill="#0b4d40"/><circle cx="172.9" cy="282.1" r="1.33" fill="#0b4d40"/><circle cx="174.4" cy="291.7" r="1.33" fill="#0b4d40"/><circle cx="176.0" cy="293.3" r="1.33" fill="#0b4d40"/><circle cx="177.8" cy="283.6" r="1.33" fill="#0b4d40"/><circle cx="179.8" cy="282.5" r="1.33" fill="#0b4d40"/><circle cx="181.8" cy="283.3" r="1.33" fill="#0b4d40"/><circle cx="183.6" cy="280.6" r="1.33" fill="#0b4d40"/><circle cx="185.6" cy="278.3" r="1.33" fill="#0b4d40"/><circle cx="187.3" cy="280.6" r="1.33" fill="#0b4d40"/><circle cx="189.0" cy="279.5" r="1.33" fill="#0b4d40"/><circle cx="190.8" cy="289.4" r="1.33" fill="#0b4d40"/><circle cx="193.1" cy="285.2" r="1.33" fill="#0b4d40"/><circle cx="194.8" cy="292.5" r="1.33" fill="#0b4d40"/><circle cx="196.5" cy="276.7" r="1.33" fill="#0b4d40"/><circle cx="198.3" cy="282.5" r="1.33" fill="#0b4d40"/><circle cx="200.0" cy="276.0" r="1.33" fill="#0b4d40"/><circle cx="201.7" cy="281.0" r="1.33" fill="#0b4d40"/><circle cx="203.2" cy="277.5" r="1.33" fill="#0b4d40"/><circle cx="205.2" cy="276.0" r="1.33" fill="#0b4d40"/><circle cx="206.9" cy="288.2" r="1.33" fill="#0b4d40"/><circle cx="208.7" cy="272.9" r="1.33" fill="#0b4d40"/><circle cx="211.5" cy="285.9" r="1.33" fill="#0b4d40"/><circle cx="213.8" cy="289.4" r="1.33" fill="#0b4d40"/><circle cx="209.5" cy="283.8" r="1.33" fill="#0b4d40"/><circle cx="214.8" cy="288.5" r="1.33" fill="#0b4d40"/><circle cx="216.8" cy="284.8" r="1.33" fill="#0b4d40"/><circle cx="218.5" cy="280.5" r="1.33" fill="#0b4d40"/><circle cx="220.0" cy="271.0" r="1.33" fill="#0b4d40"/><circle cx="220.8" cy="278.5" r="1.33" fill="#0b4d40"/><circle cx="222.2" cy="277.5" r="1.33" fill="#0b4d40"/><circle cx="223.2" cy="276.5" r="1.33" fill="#0b4d40"/><circle cx="224.8" cy="274.5" r="1.33" fill="#0b4d40"/><circle cx="226.2" cy="280.2" r="1.33" fill="#0b4d40"/><circle cx="228.0" cy="272.2" r="1.33" fill="#0b4d40"/><circle cx="229.5" cy="279.5" r="1.33" fill="#0b4d40"/><circle cx="231.0" cy="276.8" r="1.33" fill="#0b4d40"/><circle cx="232.8" cy="280.5" r="1.33" fill="#0b4d40"/><circle cx="234.5" cy="280.2" r="1.33" fill="#0b4d40"/><circle cx="236.5" cy="279.8" r="1.33" fill="#0b4d40"/><circle cx="237.8" cy="270.2" r="1.33" fill="#0b4d40"/><circle cx="239.2" cy="274.2" r="1.33" fill="#0b4d40"/><circle cx="240.8" cy="268.8" r="1.33" fill="#0b4d40"/><circle cx="242.5" cy="272.2" r="1.33" fill="#0b4d40"/><rect x="39.6" y="251.6" width="212.4" height="135.20000000000002" fill="none" stroke="#1c1c1c" stroke-width="1.3"/><line x1="36.800000000000004" y1="380.65" x2="39.6" y2="380.65" stroke="#333" stroke-width="0.9"/><text x="34.20" y="383.55" text-anchor="end" font-size="8.2" fill="#2a2a2a" stroke="#2a2a2a" stroke-width="0.2">0</text><line x1="36.800000000000004" y1="349.93" x2="39.6" y2="349.93" stroke="#333" stroke-width="0.9"/><text x="34.20" y="352.83" text-anchor="end" font-size="8.2" fill="#2a2a2a" stroke="#2a2a2a" stroke-width="0.2">25</text><line x1="36.800000000000004" y1="319.20" x2="39.6" y2="319.20" stroke="#333" stroke-width="0.9"/><text x="34.20" y="322.10" text-anchor="end" font-size="8.2" fill="#2a2a2a" stroke="#2a2a2a" stroke-width="0.2">50</text><line x1="36.800000000000004" y1="288.47" x2="39.6" y2="288.47" stroke="#333" stroke-width="0.9"/><text x="34.20" y="291.37" text-anchor="end" font-size="8.2" fill="#2a2a2a" stroke="#2a2a2a" stroke-width="0.2">75</text><line x1="36.800000000000004" y1="257.75" x2="39.6" y2="257.75" stroke="#333" stroke-width="0.9"/><text x="34.20" y="260.65" text-anchor="end" font-size="8.2" fill="#2a2a2a" stroke="#2a2a2a" stroke-width="0.2">100</text><line x1="49.65" y1="386.8" x2="49.65" y2="390.3" stroke="#333" stroke-width="0.9"/><text transform="translate(49.45,396.40) rotate(-45)" text-anchor="end" font-size="7.6" fill="#2a2a2a" stroke="#2a2a2a" stroke-width="0.3">2010</text><line x1="69.13" y1="386.8" x2="69.13" y2="390.3" stroke="#333" stroke-width="0.9"/><text transform="translate(68.93,396.40) rotate(-45)" text-anchor="end" font-size="7.6" fill="#2a2a2a" stroke="#2a2a2a" stroke-width="0.3">2011</text><line x1="88.60" y1="386.8" x2="88.60" y2="390.3" stroke="#333" stroke-width="0.9"/><text transform="translate(88.40,396.40) rotate(-45)" text-anchor="end" font-size="7.6" fill="#2a2a2a" stroke="#2a2a2a" stroke-width="0.3">2012</text><line x1="108.07" y1="386.8" x2="108.07" y2="390.3" stroke="#333" stroke-width="0.9"/><text transform="translate(107.87,396.40) rotate(-45)" text-anchor="end" font-size="7.6" fill="#2a2a2a" stroke="#2a2a2a" stroke-width="0.3">2013</text><line x1="127.54" y1="386.8" x2="127.54" y2="390.3" stroke="#333" stroke-width="0.9"/><text transform="translate(127.34,396.40) rotate(-45)" text-anchor="end" font-size="7.6" fill="#2a2a2a" stroke="#2a2a2a" stroke-width="0.3">2014</text><line x1="147.01" y1="386.8" x2="147.01" y2="390.3" stroke="#333" stroke-width="0.9"/><text transform="translate(146.81,396.40) rotate(-45)" text-anchor="end" font-size="7.6" fill="#2a2a2a" stroke="#2a2a2a" stroke-width="0.3">2015</text><line x1="166.48" y1="386.8" x2="166.48" y2="390.3" stroke="#333" stroke-width="0.9"/><text transform="translate(166.28,396.40) rotate(-45)" text-anchor="end" font-size="7.6" fill="#2a2a2a" stroke="#2a2a2a" stroke-width="0.3">2016</text><line x1="185.95" y1="386.8" x2="185.95" y2="390.3" stroke="#333" stroke-width="0.9"/><text transform="translate(185.75,396.40) rotate(-45)" text-anchor="end" font-size="7.6" fill="#2a2a2a" stroke="#2a2a2a" stroke-width="0.3">2017</text><line x1="205.43" y1="386.8" x2="205.43" y2="390.3" stroke="#333" stroke-width="0.9"/><text transform="translate(205.23,396.40) rotate(-45)" text-anchor="end" font-size="7.6" fill="#2a2a2a" stroke="#2a2a2a" stroke-width="0.3">2018</text><line x1="224.90" y1="386.8" x2="224.90" y2="390.3" stroke="#333" stroke-width="0.9"/><text transform="translate(224.70,396.40) rotate(-45)" text-anchor="end" font-size="7.6" fill="#2a2a2a" stroke="#2a2a2a" stroke-width="0.3">2019</text><line x1="244.37" y1="386.8" x2="244.37" y2="390.3" stroke="#333" stroke-width="0.9"/><text transform="translate(244.17,396.40) rotate(-45)" text-anchor="end" font-size="7.6" fill="#2a2a2a" stroke="#2a2a2a" stroke-width="0.3">2020</text><text transform="translate(145.80,420.8) scale(0.645,1)" text-anchor="middle" font-size="9.6" fill="#2a2a2a" stroke="#2a2a2a" stroke-width="0.4">Time</text><text transform="translate(15.1,314.3) rotate(-90) scale(0.635,1)" text-anchor="middle" font-size="9.8" fill="#2a2a2a" stroke="#2a2a2a" stroke-width="0.35">Rate</text></g><g font-family="'Liberation Sans', sans-serif"><text x="277.7" y="232.6" font-family="'Liberation Sans', sans-serif" font-weight="bold" font-size="10.8" fill="#000" stroke="#000" stroke-width="0.25">D</text><text x="405.15" y="233.3" text-anchor="middle" font-size="9" fill="#1e1e1e" stroke="#1e1e1e" stroke-width="0.15">Inpatient 30-Day</text><text x="405.15" y="244.7" text-anchor="middle" font-size="9.08" fill="#1e1e1e" stroke="#1e1e1e" stroke-width="0.15">Readmissions per 100 Discharges</text><line x1="455.41" y1="385" x2="455.41" y2="250" stroke="#eaf8fc" stroke-width="3"/><line x1="455.41" y1="385" x2="455.41" y2="250" stroke="#3f93c0" stroke-width="0.9" stroke-dasharray="2.6 2.59" stroke-dashoffset="1.3"/><line x1="475.18" y1="385" x2="475.18" y2="250" stroke="#eaf8fc" stroke-width="3"/><line x1="475.18" y1="385" x2="475.18" y2="250" stroke="#3f93c0" stroke-width="0.9" stroke-dasharray="2.6 2.59" stroke-dashoffset="1.3"/><path d="M306.7,301.2 C307.3,301.1 309.2,301.2 310.4,300.9 C311.6,300.6 312.6,299.8 313.8,299.4 C315.0,299.0 316.2,298.7 317.3,298.3 C318.4,297.9 319.1,297.1 320.2,297.1 C321.3,297.1 322.9,297.8 324.2,298.3 C325.4,298.8 326.6,299.8 327.7,300.2 C328.8,300.6 329.6,301.0 330.6,300.9 C331.6,300.8 332.4,300.3 333.5,299.8 C334.6,299.3 335.8,298.3 336.9,297.9 C338.0,297.4 339.2,296.9 340.4,297.1 C341.5,297.4 342.6,298.8 343.8,299.4 C345.0,300.0 346.1,300.5 347.3,300.6 C348.5,300.7 349.7,300.1 350.8,299.8 C351.9,299.5 353.1,299.1 354.2,298.6 C355.3,298.2 356.8,297.4 357.7,297.1 C358.6,296.9 358.6,297.0 359.6,297.1 C360.6,297.2 362.4,297.5 363.7,297.9 C365.0,298.3 366.4,299.6 367.7,299.6 C369.0,299.6 370.3,298.6 371.7,297.9 C373.1,297.2 374.6,296.1 375.8,295.6 C377.1,295.1 378.1,294.7 379.2,294.8 C380.3,294.9 381.5,295.8 382.7,296.2 C383.9,296.6 385.0,297.1 386.2,297.5 C387.4,297.9 388.5,298.5 389.6,298.5 C390.8,298.5 392.0,298.1 393.1,297.5 C394.2,296.9 395.4,295.7 396.5,295.2 C397.6,294.7 398.8,294.5 400.0,294.4 C401.2,294.3 402.4,294.5 403.5,294.8 C404.6,295.1 405.4,296.1 406.3,296.2 C407.2,296.3 408.6,295.1 409.2,295.2 C409.8,295.3 409.1,296.9 410.0,296.7 C410.9,296.5 413.1,294.3 414.6,294.0 C416.1,293.7 417.9,294.6 419.2,294.7 C420.5,294.8 421.3,294.4 422.7,294.7 C424.1,295.0 425.8,296.6 427.3,296.7 C428.8,296.8 430.4,295.8 431.9,295.2 C433.4,294.6 435.1,293.7 436.5,293.2 C437.9,292.7 438.8,292.2 440.0,292.4 C441.2,292.6 442.4,293.7 443.5,294.3 C444.6,294.9 445.8,296.0 446.9,296.1 C448.0,296.2 449.2,295.2 450.4,294.7 C451.5,294.2 452.8,294.0 453.8,293.2 C454.8,292.4 455.4,290.3 456.2,289.7 C457.0,289.1 457.6,289.2 458.5,289.4 C459.4,289.6 460.8,290.3 461.9,290.9 C463.0,291.5 464.3,292.4 465.4,293.2 C466.5,294.0 467.4,295.4 468.5,295.5 C469.6,295.6 470.9,294.1 472.0,293.5 C473.1,292.9 473.8,292.5 475.0,292.0 C476.2,291.5 477.7,290.7 479.0,290.5 C480.3,290.3 481.8,290.8 483.0,291.0 C484.2,291.2 485.2,291.6 486.0,292.0 C486.8,292.4 487.2,293.9 488.0,293.5 C488.8,293.1 490.0,290.7 491.0,289.5 C492.0,288.3 493.0,287.4 494.0,286.5 C495.0,285.6 496.0,284.9 497.0,284.2 C498.0,283.5 499.0,283.0 500.0,282.5 C501.0,282.0 502.5,281.4 503.0,281.2" fill="none" stroke="#da862f" stroke-width="1.2" stroke-linejoin="round" stroke-linecap="round"/><circle cx="306.7" cy="309.0" r="1.33" fill="#0b4d40"/><circle cx="308.3" cy="297.9" r="1.33" fill="#0b4d40"/><circle cx="310.2" cy="304.0" r="1.33" fill="#0b4d40"/><circle cx="311.5" cy="297.9" r="1.33" fill="#0b4d40"/><circle cx="313.6" cy="305.2" r="1.33" fill="#0b4d40"/><circle cx="315.0" cy="301.2" r="1.33" fill="#0b4d40"/><circle cx="316.7" cy="298.6" r="1.33" fill="#0b4d40"/><circle cx="318.2" cy="305.2" r="1.33" fill="#0b4d40"/><circle cx="319.8" cy="297.1" r="1.33" fill="#0b4d40"/><circle cx="321.7" cy="304.8" r="1.33" fill="#0b4d40"/><circle cx="323.1" cy="304.4" r="1.33" fill="#0b4d40"/><circle cx="324.8" cy="295.6" r="1.33" fill="#0b4d40"/><circle cx="326.3" cy="302.1" r="1.33" fill="#0b4d40"/><circle cx="327.9" cy="302.9" r="1.33" fill="#0b4d40"/><circle cx="329.8" cy="306.0" r="1.33" fill="#0b4d40"/><circle cx="331.4" cy="295.6" r="1.33" fill="#0b4d40"/><circle cx="333.2" cy="299.8" r="1.33" fill="#0b4d40"/><circle cx="334.8" cy="291.9" r="1.33" fill="#0b4d40"/><circle cx="336.7" cy="294.5" r="1.33" fill="#0b4d40"/><circle cx="338.1" cy="299.8" r="1.33" fill="#0b4d40"/><circle cx="339.8" cy="293.1" r="1.33" fill="#0b4d40"/><circle cx="343.6" cy="299.4" r="1.33" fill="#0b4d40"/><circle cx="345.0" cy="300.9" r="1.33" fill="#0b4d40"/><circle cx="347.9" cy="296.5" r="1.33" fill="#0b4d40"/><circle cx="349.6" cy="291.7" r="1.33" fill="#0b4d40"/><circle cx="351.3" cy="294.8" r="1.33" fill="#0b4d40"/><circle cx="352.8" cy="304.6" r="1.33" fill="#0b4d40"/><circle cx="354.8" cy="291.7" r="1.33" fill="#0b4d40"/><circle cx="356.3" cy="290.2" r="1.33" fill="#0b4d40"/><circle cx="357.9" cy="294.8" r="1.33" fill="#0b4d40"/><circle cx="359.4" cy="297.9" r="1.33" fill="#0b4d40"/><circle cx="361.3" cy="297.9" r="1.33" fill="#0b4d40"/><circle cx="363.1" cy="305.2" r="1.33" fill="#0b4d40"/><circle cx="364.8" cy="303.1" r="1.33" fill="#0b4d40"/><circle cx="366.5" cy="302.2" r="1.33" fill="#0b4d40"/><circle cx="368.3" cy="300.2" r="1.33" fill="#0b4d40"/><circle cx="370.0" cy="301.0" r="1.33" fill="#0b4d40"/><circle cx="371.4" cy="290.2" r="1.33" fill="#0b4d40"/><circle cx="372.9" cy="289.2" r="1.33" fill="#0b4d40"/><circle cx="374.4" cy="290.2" r="1.33" fill="#0b4d40"/><circle cx="376.0" cy="293.6" r="1.33" fill="#0b4d40"/><circle cx="377.8" cy="294.8" r="1.33" fill="#0b4d40"/><circle cx="379.5" cy="291.0" r="1.33" fill="#0b4d40"/><circle cx="381.3" cy="294.8" r="1.33" fill="#0b4d40"/><circle cx="382.9" cy="297.9" r="1.33" fill="#0b4d40"/><circle cx="384.8" cy="295.2" r="1.33" fill="#0b4d40"/><circle cx="386.4" cy="295.9" r="1.33" fill="#0b4d40"/><circle cx="388.2" cy="296.4" r="1.33" fill="#0b4d40"/><circle cx="389.0" cy="304.2" r="1.33" fill="#0b4d40"/><circle cx="390.8" cy="297.3" r="1.33" fill="#0b4d40"/><circle cx="392.5" cy="297.9" r="1.33" fill="#0b4d40"/><circle cx="394.2" cy="297.1" r="1.33" fill="#0b4d40"/><circle cx="396.0" cy="295.2" r="1.33" fill="#0b4d40"/><circle cx="397.9" cy="291.0" r="1.33" fill="#0b4d40"/><circle cx="399.4" cy="286.3" r="1.33" fill="#0b4d40"/><circle cx="401.2" cy="285.5" r="1.33" fill="#0b4d40"/><circle cx="402.3" cy="291.3" r="1.33" fill="#0b4d40"/><circle cx="404.0" cy="291.0" r="1.33" fill="#0b4d40"/><circle cx="406.7" cy="294.8" r="1.33" fill="#0b4d40"/><circle cx="408.3" cy="293.6" r="1.33" fill="#0b4d40"/><circle cx="410.2" cy="293.3" r="1.33" fill="#0b4d40"/><circle cx="411.8" cy="293.8" r="1.33" fill="#0b4d40"/><circle cx="412.7" cy="302.5" r="1.33" fill="#0b4d40"/><circle cx="414.4" cy="295.2" r="1.33" fill="#0b4d40"/><circle cx="416.0" cy="292.4" r="1.33" fill="#0b4d40"/><circle cx="418.1" cy="294.0" r="1.33" fill="#0b4d40"/><circle cx="419.2" cy="298.6" r="1.33" fill="#0b4d40"/><circle cx="420.6" cy="297.8" r="1.33" fill="#0b4d40"/><circle cx="422.5" cy="292.4" r="1.33" fill="#0b4d40"/><circle cx="424.1" cy="302.1" r="1.33" fill="#0b4d40"/><circle cx="425.9" cy="297.0" r="1.33" fill="#0b4d40"/><circle cx="427.5" cy="292.8" r="1.33" fill="#0b4d40"/><circle cx="429.0" cy="303.2" r="1.33" fill="#0b4d40"/><circle cx="430.5" cy="305.1" r="1.33" fill="#0b4d40"/><circle cx="432.2" cy="300.1" r="1.33" fill="#0b4d40"/><circle cx="434.0" cy="303.2" r="1.33" fill="#0b4d40"/><circle cx="435.6" cy="294.7" r="1.33" fill="#0b4d40"/><circle cx="437.1" cy="299.8" r="1.33" fill="#0b4d40"/><circle cx="438.8" cy="294.7" r="1.33" fill="#0b4d40"/><circle cx="440.6" cy="291.7" r="1.33" fill="#0b4d40"/><circle cx="442.3" cy="286.8" r="1.33" fill="#0b4d40"/><circle cx="444.0" cy="297.5" r="1.33" fill="#0b4d40"/><circle cx="446.0" cy="295.2" r="1.33" fill="#0b4d40"/><circle cx="447.2" cy="297.5" r="1.33" fill="#0b4d40"/><circle cx="448.7" cy="288.6" r="1.33" fill="#0b4d40"/><circle cx="450.4" cy="295.2" r="1.33" fill="#0b4d40"/><circle cx="452.1" cy="294.0" r="1.33" fill="#0b4d40"/><circle cx="453.8" cy="293.2" r="1.33" fill="#0b4d40"/><circle cx="455.6" cy="297.0" r="1.33" fill="#0b4d40"/><circle cx="457.1" cy="292.4" r="1.33" fill="#0b4d40"/><circle cx="458.7" cy="278.5" r="1.33" fill="#0b4d40"/><circle cx="460.2" cy="297.8" r="1.33" fill="#0b4d40"/><circle cx="461.9" cy="285.9" r="1.33" fill="#0b4d40"/><circle cx="463.7" cy="287.4" r="1.33" fill="#0b4d40"/><circle cx="465.6" cy="288.2" r="1.33" fill="#0b4d40"/><circle cx="467.1" cy="301.8" r="1.33" fill="#0b4d40"/><circle cx="468.8" cy="299.0" r="1.33" fill="#0b4d40"/><circle cx="470.5" cy="292.8" r="1.33" fill="#0b4d40"/><circle cx="472.0" cy="289.2" r="1.33" fill="#0b4d40"/><circle cx="473.8" cy="298.2" r="1.33" fill="#0b4d40"/><circle cx="475.0" cy="294.8" r="1.33" fill="#0b4d40"/><circle cx="477.0" cy="289.2" r="1.33" fill="#0b4d40"/><circle cx="478.5" cy="298.8" r="1.33" fill="#0b4d40"/><circle cx="480.2" cy="290.2" r="1.33" fill="#0b4d40"/><circle cx="481.8" cy="290.8" r="1.33" fill="#0b4d40"/><circle cx="483.5" cy="289.8" r="1.33" fill="#0b4d40"/><circle cx="485.2" cy="291.5" r="1.33" fill="#0b4d40"/><circle cx="487.0" cy="297.2" r="1.33" fill="#0b4d40"/><circle cx="488.5" cy="293.8" r="1.33" fill="#0b4d40"/><circle cx="490.2" cy="297.5" r="1.33" fill="#0b4d40"/><circle cx="491.8" cy="283.5" r="1.33" fill="#0b4d40"/><circle cx="493.5" cy="287.8" r="1.33" fill="#0b4d40"/><circle cx="495.0" cy="289.8" r="1.33" fill="#0b4d40"/><circle cx="496.8" cy="284.2" r="1.33" fill="#0b4d40"/><circle cx="498.2" cy="282.2" r="1.33" fill="#0b4d40"/><circle cx="500.0" cy="287.8" r="1.33" fill="#0b4d40"/><circle cx="501.5" cy="280.5" r="1.33" fill="#0b4d40"/><circle cx="503.0" cy="281.5" r="1.33" fill="#0b4d40"/><rect x="297.3" y="250" width="215.7" height="135" fill="none" stroke="#1c1c1c" stroke-width="1.3"/><line x1="294.5" y1="378.86" x2="297.3" y2="378.86" stroke="#333" stroke-width="0.9"/><text x="291.90" y="381.76" text-anchor="end" font-size="8.2" fill="#2a2a2a" stroke="#2a2a2a" stroke-width="0.2">0</text><line x1="294.5" y1="354.32" x2="297.3" y2="354.32" stroke="#333" stroke-width="0.9"/><text x="291.90" y="357.22" text-anchor="end" font-size="8.2" fill="#2a2a2a" stroke="#2a2a2a" stroke-width="0.2">10</text><line x1="294.5" y1="329.77" x2="297.3" y2="329.77" stroke="#333" stroke-width="0.9"/><text x="291.90" y="332.67" text-anchor="end" font-size="8.2" fill="#2a2a2a" stroke="#2a2a2a" stroke-width="0.2">20</text><line x1="294.5" y1="305.23" x2="297.3" y2="305.23" stroke="#333" stroke-width="0.9"/><text x="291.90" y="308.13" text-anchor="end" font-size="8.2" fill="#2a2a2a" stroke="#2a2a2a" stroke-width="0.2">30</text><line x1="294.5" y1="280.68" x2="297.3" y2="280.68" stroke="#333" stroke-width="0.9"/><text x="291.90" y="283.58" text-anchor="end" font-size="8.2" fill="#2a2a2a" stroke="#2a2a2a" stroke-width="0.2">40</text><line x1="294.5" y1="256.14" x2="297.3" y2="256.14" stroke="#333" stroke-width="0.9"/><text x="291.90" y="259.04" text-anchor="end" font-size="8.2" fill="#2a2a2a" stroke="#2a2a2a" stroke-width="0.2">50</text><line x1="307.50" y1="385" x2="307.50" y2="388.5" stroke="#333" stroke-width="0.9"/><text transform="translate(307.30,394.60) rotate(-45)" text-anchor="end" font-size="7.6" fill="#2a2a2a" stroke="#2a2a2a" stroke-width="0.3">2010</text><line x1="327.28" y1="385" x2="327.28" y2="388.5" stroke="#333" stroke-width="0.9"/><text transform="translate(327.08,394.60) rotate(-45)" text-anchor="end" font-size="7.6" fill="#2a2a2a" stroke="#2a2a2a" stroke-width="0.3">2011</text><line x1="347.05" y1="385" x2="347.05" y2="388.5" stroke="#333" stroke-width="0.9"/><text transform="translate(346.85,394.60) rotate(-45)" text-anchor="end" font-size="7.6" fill="#2a2a2a" stroke="#2a2a2a" stroke-width="0.3">2012</text><line x1="366.83" y1="385" x2="366.83" y2="388.5" stroke="#333" stroke-width="0.9"/><text transform="translate(366.63,394.60) rotate(-45)" text-anchor="end" font-size="7.6" fill="#2a2a2a" stroke="#2a2a2a" stroke-width="0.3">2013</text><line x1="386.60" y1="385" x2="386.60" y2="388.5" stroke="#333" stroke-width="0.9"/><text transform="translate(386.40,394.60) rotate(-45)" text-anchor="end" font-size="7.6" fill="#2a2a2a" stroke="#2a2a2a" stroke-width="0.3">2014</text><line x1="406.37" y1="385" x2="406.37" y2="388.5" stroke="#333" stroke-width="0.9"/><text transform="translate(406.17,394.60) rotate(-45)" text-anchor="end" font-size="7.6" fill="#2a2a2a" stroke="#2a2a2a" stroke-width="0.3">2015</text><line x1="426.15" y1="385" x2="426.15" y2="388.5" stroke="#333" stroke-width="0.9"/><text transform="translate(425.95,394.60) rotate(-45)" text-anchor="end" font-size="7.6" fill="#2a2a2a" stroke="#2a2a2a" stroke-width="0.3">2016</text><line x1="445.92" y1="385" x2="445.92" y2="388.5" stroke="#333" stroke-width="0.9"/><text transform="translate(445.72,394.60) rotate(-45)" text-anchor="end" font-size="7.6" fill="#2a2a2a" stroke="#2a2a2a" stroke-width="0.3">2017</text><line x1="465.70" y1="385" x2="465.70" y2="388.5" stroke="#333" stroke-width="0.9"/><text transform="translate(465.50,394.60) rotate(-45)" text-anchor="end" font-size="7.6" fill="#2a2a2a" stroke="#2a2a2a" stroke-width="0.3">2018</text><line x1="485.47" y1="385" x2="485.47" y2="388.5" stroke="#333" stroke-width="0.9"/><text transform="translate(485.27,394.60) rotate(-45)" text-anchor="end" font-size="7.6" fill="#2a2a2a" stroke="#2a2a2a" stroke-width="0.3">2019</text><line x1="505.24" y1="385" x2="505.24" y2="388.5" stroke="#333" stroke-width="0.9"/><text transform="translate(505.04,394.60) rotate(-45)" text-anchor="end" font-size="7.6" fill="#2a2a2a" stroke="#2a2a2a" stroke-width="0.3">2020</text><text transform="translate(405.15,419.1) scale(0.645,1)" text-anchor="middle" font-size="9.6" fill="#2a2a2a" stroke="#2a2a2a" stroke-width="0.4">Time</text><text transform="translate(276.09999999999997,312.7) rotate(-90) scale(0.635,1)" text-anchor="middle" font-size="9.8" fill="#2a2a2a" stroke="#2a2a2a" stroke-width="0.35">Rate</text></g><g font-family="'Liberation Sans', sans-serif"><text x="12.5" y="440.0" font-family="'Liberation Sans', sans-serif" font-weight="bold" font-size="10.8" fill="#000" stroke="#000" stroke-width="0.25">E</text><text x="145.8" y="451.7" text-anchor="middle" font-size="9.06" fill="#1e1e1e" stroke="#1e1e1e" stroke-width="0.15">Inpatient Days per 100 Discharges</text><line x1="195.29" y1="591.5" x2="195.29" y2="456.5" stroke="#eaf8fc" stroke-width="3"/><line x1="195.29" y1="591.5" x2="195.29" y2="456.5" stroke="#3f93c0" stroke-width="0.9" stroke-dasharray="2.6 2.59" stroke-dashoffset="1.3"/><line x1="214.76" y1="591.5" x2="214.76" y2="456.5" stroke="#eaf8fc" stroke-width="3"/><line x1="214.76" y1="591.5" x2="214.76" y2="456.5" stroke="#3f93c0" stroke-width="0.9" stroke-dasharray="2.6 2.59" stroke-dashoffset="1.3"/><path d="M49.2,476.4 C49.7,476.6 51.1,477.1 52.1,477.6 C53.1,478.1 54.5,479.6 55.5,479.3 C56.5,479.0 57.4,476.6 58.4,475.8 C59.4,475.0 60.1,474.2 61.3,474.7 C62.4,475.2 64.0,478.2 65.3,478.7 C66.5,479.2 67.6,478.0 68.8,477.6 C70.0,477.2 71.2,476.1 72.3,476.4 C73.4,476.7 74.2,479.3 75.2,479.3 C76.2,479.3 77.6,477.0 78.6,476.4 C79.5,475.8 80.0,475.0 80.9,475.6 C81.8,476.2 82.8,479.4 83.8,479.9 C84.8,480.4 85.6,479.1 86.7,478.7 C87.8,478.3 89.0,477.3 90.2,477.6 C91.5,477.9 93.1,480.2 94.2,480.5 C95.3,480.8 96.0,479.5 97.1,479.1 C98.1,478.7 99.4,478.3 100.5,478.2 C101.6,478.1 102.4,478.3 103.5,478.7 C104.6,479.1 105.9,480.4 106.9,480.5 C108.0,480.6 108.8,479.5 109.8,479.3 C110.8,479.1 111.6,479.4 112.7,479.3 C113.8,479.2 115.2,479.0 116.2,478.7 C117.2,478.4 118.0,477.2 119.0,477.6 C120.0,478.1 120.8,480.8 121.9,481.4 C123.0,482.0 124.2,481.5 125.4,481.0 C126.6,480.5 127.8,478.5 128.8,478.2 C129.9,477.9 130.7,478.7 131.7,479.3 C132.7,479.9 133.5,481.5 134.6,481.6 C135.7,481.7 137.0,480.3 138.1,479.9 C139.2,479.5 139.9,478.8 141.0,479.1 C142.1,479.4 143.3,481.8 144.4,481.8 C145.5,481.8 146.2,479.9 147.3,479.3 C148.4,478.7 149.7,477.7 150.8,478.2 C152.0,478.7 153.0,481.9 154.2,482.2 C155.3,482.5 157.0,480.3 157.7,480.2 C158.4,480.1 157.8,481.4 158.5,481.8 C159.2,482.2 160.7,482.6 161.9,482.5 C163.2,482.4 164.7,481.5 166.0,481.0 C167.3,480.5 168.8,479.0 170.0,479.3 C171.2,479.6 172.2,482.5 173.5,482.8 C174.8,483.1 176.2,481.1 177.5,481.0 C178.8,480.9 179.8,482.6 181.0,482.5 C182.2,482.4 183.8,480.6 185.0,480.7 C186.2,480.8 187.3,482.4 188.5,483.0 C189.7,483.6 190.8,484.3 191.9,484.2 C193.0,484.1 193.9,482.8 194.8,482.2 C195.7,481.6 196.1,480.7 197.1,480.5 C198.1,480.3 199.3,481.2 200.6,481.0 C201.8,480.8 203.4,479.4 204.6,479.1 C205.8,478.8 206.5,479.1 207.5,479.2 C208.5,479.3 209.8,479.7 210.5,479.5 C211.2,479.3 211.2,477.5 212.0,477.8 C212.8,478.1 214.0,480.5 215.0,481.5 C216.0,482.5 216.9,483.6 218.0,484.0 C219.1,484.4 220.3,484.4 221.5,484.0 C222.7,483.6 223.8,481.6 225.0,481.5 C226.2,481.4 227.4,483.5 228.5,483.5 C229.6,483.5 230.4,482.1 231.5,481.5 C232.6,480.9 233.8,479.8 235.0,480.0 C236.2,480.2 237.2,482.1 238.5,482.5 C239.8,482.9 242.2,482.5 243.0,482.5" fill="none" stroke="#da862f" stroke-width="1.2" stroke-linejoin="round" stroke-linecap="round"/><circle cx="48.8" cy="481.0" r="1.33" fill="#0b4d40"/><circle cx="50.3" cy="479.9" r="1.33" fill="#0b4d40"/><circle cx="52.1" cy="480.5" r="1.33" fill="#0b4d40"/><circle cx="53.8" cy="475.6" r="1.33" fill="#0b4d40"/><circle cx="55.5" cy="482.2" r="1.33" fill="#0b4d40"/><circle cx="56.9" cy="474.9" r="1.33" fill="#0b4d40"/><circle cx="58.4" cy="474.5" r="1.33" fill="#0b4d40"/><circle cx="60.2" cy="473.3" r="1.33" fill="#0b4d40"/><circle cx="61.9" cy="474.5" r="1.33" fill="#0b4d40"/><circle cx="63.8" cy="485.7" r="1.33" fill="#0b4d40"/><circle cx="65.3" cy="477.9" r="1.33" fill="#0b4d40"/><circle cx="67.1" cy="485.7" r="1.33" fill="#0b4d40"/><circle cx="68.8" cy="482.5" r="1.33" fill="#0b4d40"/><circle cx="70.3" cy="474.5" r="1.33" fill="#0b4d40"/><circle cx="71.9" cy="472.6" r="1.33" fill="#0b4d40"/><circle cx="73.8" cy="481.4" r="1.33" fill="#0b4d40"/><circle cx="75.2" cy="477.6" r="1.33" fill="#0b4d40"/><circle cx="76.9" cy="483.0" r="1.33" fill="#0b4d40"/><circle cx="78.4" cy="487.6" r="1.33" fill="#0b4d40"/><circle cx="80.0" cy="474.1" r="1.33" fill="#0b4d40"/><circle cx="81.8" cy="477.0" r="1.33" fill="#0b4d40"/><circle cx="83.5" cy="483.3" r="1.33" fill="#0b4d40"/><circle cx="85.3" cy="483.0" r="1.33" fill="#0b4d40"/><circle cx="86.9" cy="485.1" r="1.33" fill="#0b4d40"/><circle cx="88.4" cy="479.1" r="1.33" fill="#0b4d40"/><circle cx="89.9" cy="471.5" r="1.33" fill="#0b4d40"/><circle cx="91.5" cy="482.5" r="1.33" fill="#0b4d40"/><circle cx="93.0" cy="475.8" r="1.33" fill="#0b4d40"/><circle cx="94.8" cy="483.3" r="1.33" fill="#0b4d40"/><circle cx="96.5" cy="480.2" r="1.33" fill="#0b4d40"/><circle cx="98.0" cy="479.1" r="1.33" fill="#0b4d40"/><circle cx="99.4" cy="484.8" r="1.33" fill="#0b4d40"/><circle cx="100.8" cy="483.0" r="1.33" fill="#0b4d40"/><circle cx="102.6" cy="478.2" r="1.33" fill="#0b4d40"/><circle cx="104.6" cy="483.7" r="1.33" fill="#0b4d40"/><circle cx="106.3" cy="475.6" r="1.33" fill="#0b4d40"/><circle cx="108.3" cy="479.1" r="1.33" fill="#0b4d40"/><circle cx="111.0" cy="484.5" r="1.33" fill="#0b4d40"/><circle cx="112.5" cy="478.7" r="1.33" fill="#0b4d40"/><circle cx="114.1" cy="474.1" r="1.33" fill="#0b4d40"/><circle cx="115.9" cy="472.2" r="1.33" fill="#0b4d40"/><circle cx="117.5" cy="478.2" r="1.33" fill="#0b4d40"/><circle cx="119.0" cy="479.9" r="1.33" fill="#0b4d40"/><circle cx="120.8" cy="480.2" r="1.33" fill="#0b4d40"/><circle cx="122.2" cy="476.4" r="1.33" fill="#0b4d40"/><circle cx="124.0" cy="474.9" r="1.33" fill="#0b4d40"/><circle cx="125.6" cy="481.8" r="1.33" fill="#0b4d40"/><circle cx="127.1" cy="468.7" r="1.33" fill="#0b4d40"/><circle cx="128.8" cy="473.0" r="1.33" fill="#0b4d40"/><circle cx="130.2" cy="479.9" r="1.33" fill="#0b4d40"/><circle cx="132.1" cy="476.4" r="1.33" fill="#0b4d40"/><circle cx="133.5" cy="478.4" r="1.33" fill="#0b4d40"/><circle cx="135.2" cy="483.3" r="1.33" fill="#0b4d40"/><circle cx="136.7" cy="478.2" r="1.33" fill="#0b4d40"/><circle cx="138.1" cy="480.7" r="1.33" fill="#0b4d40"/><circle cx="140.2" cy="476.4" r="1.33" fill="#0b4d40"/><circle cx="141.5" cy="481.0" r="1.33" fill="#0b4d40"/><circle cx="143.3" cy="483.0" r="1.33" fill="#0b4d40"/><circle cx="145.0" cy="480.5" r="1.33" fill="#0b4d40"/><circle cx="146.7" cy="476.4" r="1.33" fill="#0b4d40"/><circle cx="148.5" cy="478.4" r="1.33" fill="#0b4d40"/><circle cx="149.8" cy="474.9" r="1.33" fill="#0b4d40"/><circle cx="151.7" cy="479.1" r="1.33" fill="#0b4d40"/><circle cx="153.3" cy="483.0" r="1.33" fill="#0b4d40"/><circle cx="155.2" cy="479.1" r="1.33" fill="#0b4d40"/><circle cx="156.5" cy="477.2" r="1.33" fill="#0b4d40"/><circle cx="159.1" cy="484.2" r="1.33" fill="#0b4d40"/><circle cx="157.9" cy="481.0" r="1.33" fill="#0b4d40"/><circle cx="161.3" cy="479.3" r="1.33" fill="#0b4d40"/><circle cx="162.8" cy="479.1" r="1.33" fill="#0b4d40"/><circle cx="164.5" cy="476.8" r="1.33" fill="#0b4d40"/><circle cx="166.3" cy="473.3" r="1.33" fill="#0b4d40"/><circle cx="167.9" cy="483.7" r="1.33" fill="#0b4d40"/><circle cx="169.4" cy="479.5" r="1.33" fill="#0b4d40"/><circle cx="171.2" cy="488.8" r="1.33" fill="#0b4d40"/><circle cx="172.9" cy="485.7" r="1.33" fill="#0b4d40"/><circle cx="174.4" cy="486.0" r="1.33" fill="#0b4d40"/><circle cx="175.8" cy="483.3" r="1.33" fill="#0b4d40"/><circle cx="177.5" cy="483.0" r="1.33" fill="#0b4d40"/><circle cx="179.0" cy="479.1" r="1.33" fill="#0b4d40"/><circle cx="180.6" cy="481.8" r="1.33" fill="#0b4d40"/><circle cx="182.5" cy="490.6" r="1.33" fill="#0b4d40"/><circle cx="184.1" cy="486.8" r="1.33" fill="#0b4d40"/><circle cx="185.9" cy="485.7" r="1.33" fill="#0b4d40"/><circle cx="187.5" cy="486.5" r="1.33" fill="#0b4d40"/><circle cx="189.4" cy="487.6" r="1.33" fill="#0b4d40"/><circle cx="191.0" cy="488.0" r="1.33" fill="#0b4d40"/><circle cx="192.5" cy="486.5" r="1.33" fill="#0b4d40"/><circle cx="194.2" cy="491.8" r="1.33" fill="#0b4d40"/><circle cx="195.4" cy="474.9" r="1.33" fill="#0b4d40"/><circle cx="197.5" cy="482.2" r="1.33" fill="#0b4d40"/><circle cx="199.4" cy="483.3" r="1.33" fill="#0b4d40"/><circle cx="201.2" cy="483.7" r="1.33" fill="#0b4d40"/><circle cx="202.5" cy="482.5" r="1.33" fill="#0b4d40"/><circle cx="204.4" cy="480.7" r="1.33" fill="#0b4d40"/><circle cx="205.8" cy="477.2" r="1.33" fill="#0b4d40"/><circle cx="207.5" cy="478.7" r="1.33" fill="#0b4d40"/><circle cx="208.7" cy="483.0" r="1.33" fill="#0b4d40"/><circle cx="210.4" cy="483.7" r="1.33" fill="#0b4d40"/><circle cx="212.1" cy="477.6" r="1.33" fill="#0b4d40"/><circle cx="213.8" cy="470.7" r="1.33" fill="#0b4d40"/><circle cx="206.2" cy="479.0" r="1.33" fill="#0b4d40"/><circle cx="215.0" cy="477.5" r="1.33" fill="#0b4d40"/><circle cx="216.5" cy="481.0" r="1.33" fill="#0b4d40"/><circle cx="218.0" cy="488.2" r="1.33" fill="#0b4d40"/><circle cx="219.5" cy="487.5" r="1.33" fill="#0b4d40"/><circle cx="221.8" cy="483.8" r="1.33" fill="#0b4d40"/><circle cx="224.8" cy="478.8" r="1.33" fill="#0b4d40"/><circle cx="226.5" cy="476.8" r="1.33" fill="#0b4d40"/><circle cx="228.0" cy="491.2" r="1.33" fill="#0b4d40"/><circle cx="229.8" cy="488.8" r="1.33" fill="#0b4d40"/><circle cx="231.0" cy="482.2" r="1.33" fill="#0b4d40"/><circle cx="233.0" cy="484.2" r="1.33" fill="#0b4d40"/><circle cx="234.5" cy="486.8" r="1.33" fill="#0b4d40"/><circle cx="236.2" cy="481.2" r="1.33" fill="#0b4d40"/><circle cx="239.2" cy="478.2" r="1.33" fill="#0b4d40"/><circle cx="240.8" cy="482.5" r="1.33" fill="#0b4d40"/><circle cx="242.5" cy="482.8" r="1.33" fill="#0b4d40"/><rect x="39.6" y="456.5" width="212.4" height="135.0" fill="none" stroke="#1c1c1c" stroke-width="1.3"/><line x1="36.800000000000004" y1="585.36" x2="39.6" y2="585.36" stroke="#333" stroke-width="0.9"/><text x="34.20" y="588.26" text-anchor="end" font-size="8.2" fill="#2a2a2a" stroke="#2a2a2a" stroke-width="0.2">0</text><line x1="36.800000000000004" y1="544.45" x2="39.6" y2="544.45" stroke="#333" stroke-width="0.9"/><text x="34.20" y="547.35" text-anchor="end" font-size="8.2" fill="#2a2a2a" stroke="#2a2a2a" stroke-width="0.2">200</text><line x1="36.800000000000004" y1="503.55" x2="39.6" y2="503.55" stroke="#333" stroke-width="0.9"/><text x="34.20" y="506.45" text-anchor="end" font-size="8.2" fill="#2a2a2a" stroke="#2a2a2a" stroke-width="0.2">400</text><line x1="36.800000000000004" y1="462.64" x2="39.6" y2="462.64" stroke="#333" stroke-width="0.9"/><text x="34.20" y="465.54" text-anchor="end" font-size="8.2" fill="#2a2a2a" stroke="#2a2a2a" stroke-width="0.2">600</text><line x1="49.65" y1="591.5" x2="49.65" y2="595.0" stroke="#333" stroke-width="0.9"/><text transform="translate(49.45,601.10) rotate(-45)" text-anchor="end" font-size="7.6" fill="#2a2a2a" stroke="#2a2a2a" stroke-width="0.3">2010</text><line x1="69.13" y1="591.5" x2="69.13" y2="595.0" stroke="#333" stroke-width="0.9"/><text transform="translate(68.93,601.10) rotate(-45)" text-anchor="end" font-size="7.6" fill="#2a2a2a" stroke="#2a2a2a" stroke-width="0.3">2011</text><line x1="88.60" y1="591.5" x2="88.60" y2="595.0" stroke="#333" stroke-width="0.9"/><text transform="translate(88.40,601.10) rotate(-45)" text-anchor="end" font-size="7.6" fill="#2a2a2a" stroke="#2a2a2a" stroke-width="0.3">2012</text><line x1="108.07" y1="591.5" x2="108.07" y2="595.0" stroke="#333" stroke-width="0.9"/><text transform="translate(107.87,601.10) rotate(-45)" text-anchor="end" font-size="7.6" fill="#2a2a2a" stroke="#2a2a2a" stroke-width="0.3">2013</text><line x1="127.54" y1="591.5" x2="127.54" y2="595.0" stroke="#333" stroke-width="0.9"/><text transform="translate(127.34,601.10) rotate(-45)" text-anchor="end" font-size="7.6" fill="#2a2a2a" stroke="#2a2a2a" stroke-width="0.3">2014</text><line x1="147.01" y1="591.5" x2="147.01" y2="595.0" stroke="#333" stroke-width="0.9"/><text transform="translate(146.81,601.10) rotate(-45)" text-anchor="end" font-size="7.6" fill="#2a2a2a" stroke="#2a2a2a" stroke-width="0.3">2015</text><line x1="166.48" y1="591.5" x2="166.48" y2="595.0" stroke="#333" stroke-width="0.9"/><text transform="translate(166.28,601.10) rotate(-45)" text-anchor="end" font-size="7.6" fill="#2a2a2a" stroke="#2a2a2a" stroke-width="0.3">2016</text><line x1="185.95" y1="591.5" x2="185.95" y2="595.0" stroke="#333" stroke-width="0.9"/><text transform="translate(185.75,601.10) rotate(-45)" text-anchor="end" font-size="7.6" fill="#2a2a2a" stroke="#2a2a2a" stroke-width="0.3">2017</text><line x1="205.43" y1="591.5" x2="205.43" y2="595.0" stroke="#333" stroke-width="0.9"/><text transform="translate(205.23,601.10) rotate(-45)" text-anchor="end" font-size="7.6" fill="#2a2a2a" stroke="#2a2a2a" stroke-width="0.3">2018</text><line x1="224.90" y1="591.5" x2="224.90" y2="595.0" stroke="#333" stroke-width="0.9"/><text transform="translate(224.70,601.10) rotate(-45)" text-anchor="end" font-size="7.6" fill="#2a2a2a" stroke="#2a2a2a" stroke-width="0.3">2019</text><line x1="244.37" y1="591.5" x2="244.37" y2="595.0" stroke="#333" stroke-width="0.9"/><text transform="translate(244.17,601.10) rotate(-45)" text-anchor="end" font-size="7.6" fill="#2a2a2a" stroke="#2a2a2a" stroke-width="0.3">2020</text><text transform="translate(145.80,625.9) scale(0.645,1)" text-anchor="middle" font-size="9.6" fill="#2a2a2a" stroke="#2a2a2a" stroke-width="0.4">Time</text><text transform="translate(15.1,519.2) rotate(-90) scale(0.635,1)" text-anchor="middle" font-size="9.8" fill="#2a2a2a" stroke="#2a2a2a" stroke-width="0.35">Rate</text></g></svg></body></html>
